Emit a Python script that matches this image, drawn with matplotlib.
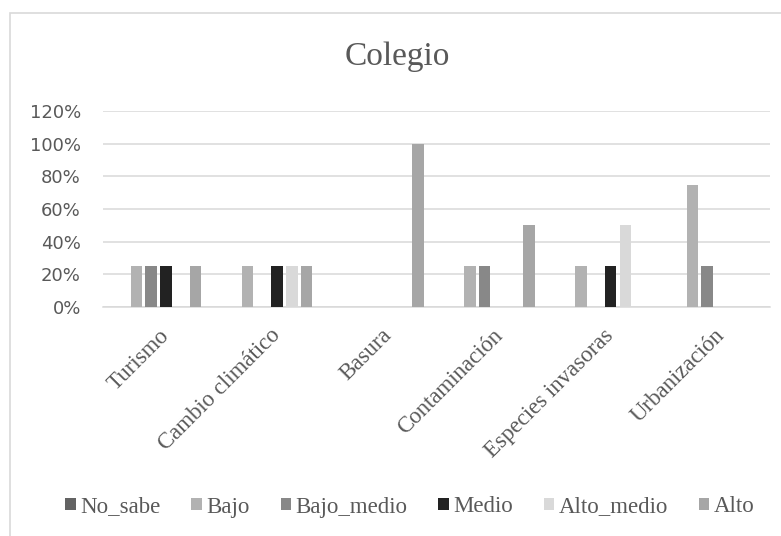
import numpy as np
import matplotlib.pyplot as plt
from matplotlib.patches import Rectangle

# categories and series
temas = ["Turismo", "Cambio climático", "Basura", "Contaminación",
         "Especies invasoras", "Urbanización"]
niveles = ["No_sabe", "Bajo", "Bajo_medio", "Medio", "Alto_medio", "Alto"]

no_sabe    = [0.00, 0.00, 0.00, 0.00, 0.00, 0.00]
bajo       = [0.25, 0.25, 0.00, 0.25, 0.25, 0.75]
bajo_medio = [0.25, 0.00, 0.00, 0.25, 0.00, 0.25]
medio      = [0.25, 0.25, 0.00, 0.00, 0.25, 0.00]
alto_medio = [0.00, 0.25, 0.00, 0.00, 0.50, 0.00]
alto       = [0.25, 0.25, 1.00, 0.50, 0.00, 0.00]

colores = ["#636363", "#B2B2B2", "#888888", "#222222", "#D9D9D9", "#A6A6A6"]
gris = "#595959"
serif = "Liberation Serif"

fig = plt.figure(figsize=(7.81, 5.36), dpi=100)
# chart frame
fig.patches.append(Rectangle((10 / 781, -0.1), 1.2, 1 - 13 / 536 + 0.1,
                             transform=fig.transFigure, fill=False,
                             edgecolor="#D9D9D9", linewidth=1.2))

ax = fig.add_axes([103 / 781, 1 - 307 / 536, 667 / 781, 196 / 536])

x = np.arange(len(temas))
slot = 0.1325
ancho = 0.104
series = [no_sabe, bajo, bajo_medio, medio, alto_medio, alto]
for i, (vals, col, nom) in enumerate(zip(series, colores, niveles)):
    ax.bar(x + (i - 2.5) * slot, vals, ancho, color=col, label=nom, zorder=3)

ax.set_xlim(-0.5, len(temas) - 0.5)
ax.set_ylim(0, 1.2)
ax.set_yticks(np.arange(0, 1.21, 0.2))
ax.set_yticklabels([f"{int(round(v * 100))}%" for v in np.arange(0, 1.21, 0.2)],
                   fontsize=13, color=gris)
ax.yaxis.grid(True, color="#D9D9D9", linewidth=1.1, zorder=0)
ax.tick_params(axis="y", length=0, pad=16)
ax.tick_params(axis="x", length=0, pad=13)
ax.set_xticks(x)
ax.set_xticklabels(temas, rotation=45, ha="right", rotation_mode="anchor",
                   fontsize=16.5, family=serif, color=gris)
for s in ["top", "right", "left"]:
    ax.spines[s].set_visible(False)
ax.spines["bottom"].set_color("#D9D9D9")
ax.spines["bottom"].set_linewidth(1.1)

fig.text(397 / 781, 1 - 57 / 536, "Colegio", ha="center", va="center",
         fontsize=24, family=serif, color=gris)

fig.legend(loc="center", bbox_to_anchor=(410 / 781, 1 - 507 / 536), ncol=6,
           frameon=False, handlelength=0.45, handleheight=0.45,
           handletextpad=0.2, columnspacing=1.35,
           prop={"family": serif, "size": 16.5}, labelcolor=gris)

fig.savefig("out.png", dpi=100)
